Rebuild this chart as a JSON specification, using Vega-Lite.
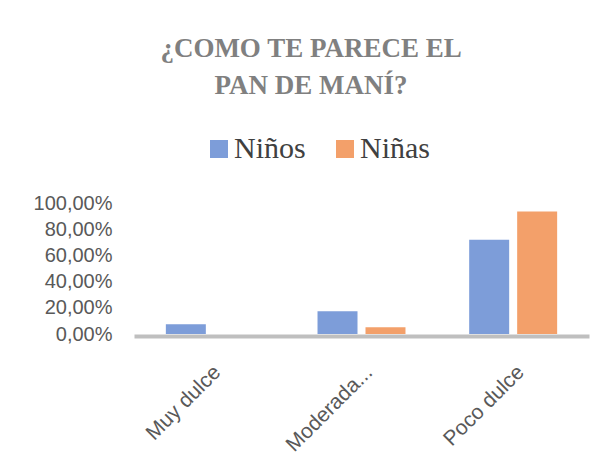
{
  "$schema": "https://vega.github.io/schema/vega-lite/v6.json",
  "width": 455,
  "height": 131,
  "padding": {"left": 33, "top": 35, "right": 10, "bottom": 4},
  "background": "white",
  "title": {
    "text": ["¿COMO TE PARECE EL", "PAN DE MANÍ?"],
    "font": "Liberation Serif",
    "fontSize": 27,
    "fontWeight": "bold",
    "color": "#808080",
    "lineHeight": 37,
    "anchor": "middle",
    "frame": "bounds",
    "offset": 34
  },
  "data": {
    "values": [
      {"respuesta": "Muy dulce", "grupo": "Niños", "valor": 0.074},
      {"respuesta": "Muy dulce", "grupo": "Niñas", "valor": 0},
      {"respuesta": "Moderada...", "grupo": "Niños", "valor": 0.173},
      {"respuesta": "Moderada...", "grupo": "Niñas", "valor": 0.051},
      {"respuesta": "Poco dulce", "grupo": "Niños", "valor": 0.72},
      {"respuesta": "Poco dulce", "grupo": "Niñas", "valor": 0.936}
    ]
  },
  "mark": {"type": "bar"},
  "encoding": {
    "x": {
      "field": "respuesta",
      "type": "nominal",
      "sort": null,
      "scale": {"paddingInner": 0.42, "paddingOuter": 0.21},
      "axis": {
        "title": null,
        "labelAngle": -45,
        "labelFont": "Liberation Sans",
        "labelFontSize": 21,
        "labelColor": "#595959",
        "labelPadding": 25,
        "labelLimit": 300,
        "ticks": false,
        "domainColor": "#bfbfbf",
        "domainWidth": 4,
        "offset": 2,
        "grid": false
      }
    },
    "xOffset": {
      "field": "grupo",
      "type": "nominal",
      "sort": ["Niños", "Niñas"],
      "scale": {"paddingInner": 0.1667, "paddingOuter": 0}
    },
    "y": {
      "field": "valor",
      "type": "quantitative",
      "scale": {"domain": [0, 1], "nice": false},
      "axis": {
        "title": null,
        "values": [0, 0.2, 0.4, 0.6, 0.8, 1],
        "format": ".2%",
        "labelExpr": "replace(datum.label, '.', ',')",
        "labelFont": "Liberation Sans",
        "labelFontSize": 20,
        "labelColor": "#595959",
        "labelPadding": 22,
        "ticks": false,
        "domain": false,
        "grid": false
      }
    },
    "color": {
      "field": "grupo",
      "type": "nominal",
      "scale": {"domain": ["Niños", "Niñas"], "range": ["#7d9dd9", "#f3a06a"]},
      "legend": {
        "title": null,
        "orient": "none",
        "legendX": 70,
        "legendY": -69,
        "direction": "horizontal",
        "symbolType": "square",
        "symbolSize": 324,
        "symbolStrokeWidth": 0,
        "labelFont": "Liberation Serif",
        "labelFontSize": 30,
        "labelColor": "#404040",
        "labelOffset": 0,
        "columnPadding": 24,
        "padding": 0
      }
    }
  },
  "config": {"view": {"stroke": null}}
}
